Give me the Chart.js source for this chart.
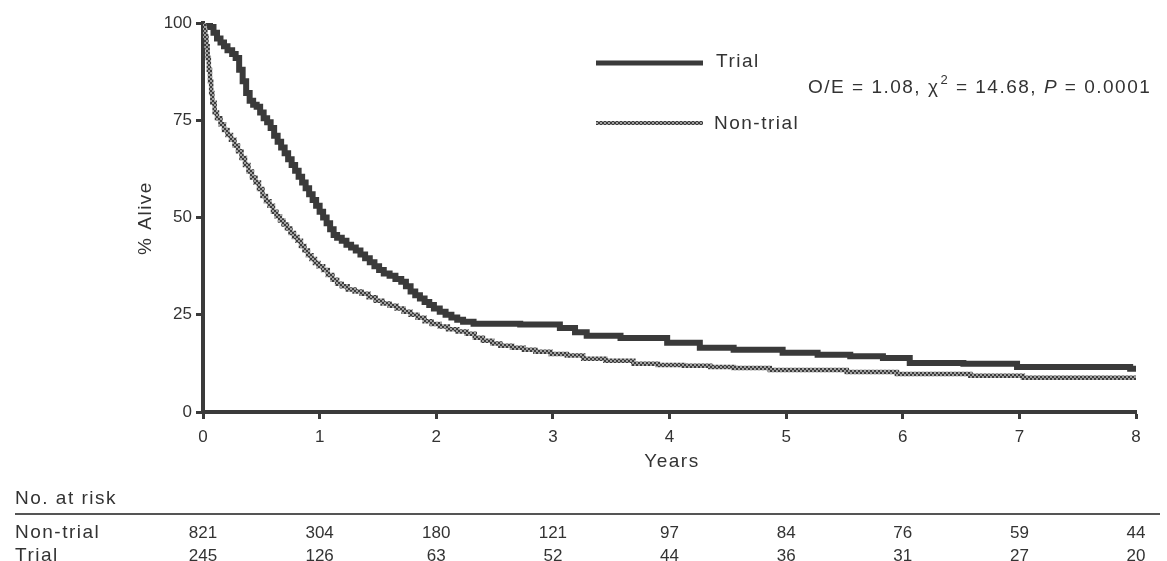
<!DOCTYPE html>
<html>
<head>
<meta charset="utf-8">
<script src="https://cdn.jsdelivr.net/npm/chart.js@4.4.0/dist/chart.umd.min.js"></script>
<style>
  html, body { margin: 0; padding: 0; background: #fff; }
  #wrap { width: 1167px; height: 561px; }
</style>
</head>
<body>
<div id="wrap"><canvas id="km"></canvas></div>
<script>
// survival curves (years, % alive)
const trialYears = [0, 0.03, 0.06, 0.09, 0.12, 0.15, 0.18, 0.21, 0.25, 0.28, 0.31, 0.34, 0.37, 0.40, 0.43, 0.46, 0.49, 0.52, 0.55, 0.58, 0.61, 0.64, 0.67, 0.70, 0.73, 0.76, 0.79, 0.82, 0.85, 0.88, 0.91, 0.94, 0.97, 1.00, 1.03, 1.06, 1.09, 1.12, 1.15, 1.19, 1.23, 1.27, 1.31, 1.35, 1.39, 1.43, 1.47, 1.51, 1.55, 1.60, 1.65, 1.70, 1.74, 1.78, 1.82, 1.86, 1.90, 1.94, 1.98, 2.03, 2.08, 2.13, 2.18, 2.23, 2.32, 2.72, 3.06, 3.19, 3.29, 3.58, 3.98, 4.26, 4.55, 4.97, 5.27, 5.55, 5.83, 6.06, 6.52, 6.98, 7.95, 8.0];
const trialAlive = [100, 100, 99, 97.5, 96, 95, 94, 93, 92, 91, 88, 85, 82, 80, 79, 78.5, 77, 75.5, 74.5, 73, 71, 69.5, 68, 66.5, 65, 63.5, 62, 60.5, 59, 57.5, 56, 54.5, 53, 51.5, 50, 48.5, 47, 45.5, 44.8, 44, 43, 42.3, 41.5, 40.5, 39.5, 38.5, 37.5, 36.5, 35.6, 35, 34.2, 33.5, 32.3, 31, 30, 29.2, 28.3, 27.5, 26.6, 25.8, 25, 24.3, 23.7, 23.2, 22.7, 22.5, 21.6, 20.5, 19.6, 19, 17.8, 16.5, 16, 15.2, 14.7, 14.3, 13.9, 12.6, 12.4, 11.6, 11.1, 11.1];

const nonTrialYears = [0, 0.01, 0.02, 0.03, 0.04, 0.05, 0.06, 0.07, 0.08, 0.10, 0.12, 0.15, 0.18, 0.21, 0.24, 0.27, 0.30, 0.33, 0.36, 0.39, 0.42, 0.45, 0.48, 0.51, 0.54, 0.57, 0.60, 0.63, 0.66, 0.69, 0.72, 0.75, 0.78, 0.81, 0.84, 0.87, 0.90, 0.93, 0.96, 0.99, 1.03, 1.07, 1.11, 1.15, 1.19, 1.24, 1.30, 1.36, 1.42, 1.48, 1.54, 1.60, 1.66, 1.72, 1.78, 1.84, 1.90, 1.96, 2.03, 2.10, 2.18, 2.26, 2.33, 2.40, 2.48, 2.55, 2.65, 2.75, 2.85, 2.98, 3.12, 3.26, 3.45, 3.69, 3.90, 4.12, 4.35, 4.55, 4.86, 5.52, 5.95, 6.58, 7.03, 8.0];
const nonTrialAlive = [100, 98, 96.5, 94, 91, 88, 85, 82, 79.5, 77, 75.5, 74, 72.5, 71.2, 70, 68.5, 67, 65.3, 63.5, 61.8, 60.3, 59, 57.3, 55.5, 54.2, 53, 51.5, 50.3, 49.2, 48.2, 47.2, 46, 45, 44, 42.7, 41.5, 40.3, 39.3, 38.3, 37.5, 36.5, 35.2, 34, 33, 32.3, 31.5, 31, 30.4, 29.5, 28.6, 27.9, 27.3, 26.6, 25.8, 25, 24.2, 23.3, 22.6, 22, 21.3, 20.7, 20.1, 19.1, 18.3, 17.6, 17, 16.5, 16, 15.5, 14.9, 14.5, 13.7, 13.2, 12.4, 12.1, 11.9, 11.6, 11.3, 10.8, 10.3, 9.8, 9.3, 8.8, 8.8];

// numbers at risk table
const riskYears = [0, 1, 2, 3, 4, 5, 6, 7, 8];
const riskNonTrial = [821, 304, 180, 121, 97, 84, 76, 59, 44];
const riskTrial = [245, 126, 63, 52, 44, 36, 31, 27, 20];

const ink = '#3a3a3a';
const textInk = '#333';
const fontFam = '"Liberation Sans", Arial, Helvetica, sans-serif';
const labelFont = '19px ' + fontFam;

const canvas = document.getElementById('km');
const ctx = canvas.getContext('2d');

// speckled pattern for the non-trial line
const pc = document.createElement('canvas');
pc.width = 4; pc.height = 4;
const pctx = pc.getContext('2d');
pctx.fillStyle = '#a0a0a0';
pctx.fillRect(0, 0, 4, 4);
pctx.fillStyle = '#3c3c3c';
pctx.fillRect(0, 0, 2, 2);
pctx.fillRect(2, 2, 2, 2);
const speckle = ctx.createPattern(pc, 'repeat');

const extras = {
  id: 'extras',
  afterDraw(chart) {
    const c = chart.ctx;
    const x = chart.scales.x;
    c.save();
    c.fillStyle = textInk;
    c.textBaseline = 'middle';
    c.letterSpacing = '1.5px';

    // axis titles
    c.font = labelFont;
    c.textAlign = 'center';
    c.fillText('Years', 672, 462);
    c.save();
    c.translate(146, 218);
    c.rotate(-Math.PI / 2);
    c.fillText('% Alive', 0, 0);
    c.restore();

    // legend
    c.lineWidth = 5;
    c.strokeStyle = ink;
    c.beginPath(); c.moveTo(596, 63); c.lineTo(703, 63); c.stroke();
    c.lineWidth = 4;
    c.strokeStyle = speckle;
    c.beginPath(); c.moveTo(596, 123); c.lineTo(703, 123); c.stroke();
    c.textAlign = 'left';
    c.fillText('Trial', 716, 62);
    c.fillText('Non-trial', 714, 124);

    // test statistic
    let px = 808;
    const py = 88;
    const part = (s, f) => { c.font = f; c.fillText(s, px, py); px += c.measureText(s).width; };
    part('O/E = 1.08, ', labelFont);
    part('\u03C7', labelFont);
    c.font = '13px ' + fontFam;
    c.fillText('2', px + 1, py - 8);
    px += c.measureText('2').width + 1;
    part(' = 14.68, ', labelFont);
    part('P', 'italic ' + labelFont);
    part(' = 0.0001', labelFont);

    // numbers at risk
    c.font = labelFont;
    c.textAlign = 'left';
    c.fillText('No. at risk', 15, 499);
    c.fillText('Non-trial', 15, 533);
    c.fillText('Trial', 15, 556);
    c.strokeStyle = '#555';
    c.lineWidth = 2;
    c.beginPath(); c.moveTo(15, 514); c.lineTo(1160, 514); c.stroke();
    c.letterSpacing = '0px';
    c.font = '17px ' + fontFam;
    c.textAlign = 'center';
    riskYears.forEach((yr, i) => {
      const cx = x.getPixelForValue(yr);
      c.fillText(String(riskNonTrial[i]), cx, 533);
      c.fillText(String(riskTrial[i]), cx, 556);
    });
    c.restore();
  }
};

const axisStyle = {
  grid: { display: true, drawOnChartArea: false, drawTicks: true, tickLength: 7, tickWidth: 3, tickColor: ink },
  border: { display: true, width: 4, color: ink }
};

new Chart(ctx, {
  type: 'line',
  data: {
    datasets: [
      {
        label: 'Non-trial',
        data: nonTrialYears.map((t, i) => ({ x: t, y: nonTrialAlive[i] })),
        borderColor: speckle,
        borderWidth: 4.5,
        stepped: true,
        pointRadius: 0,
        fill: false
      },
      {
        label: 'Trial',
        data: trialYears.map((t, i) => ({ x: t, y: trialAlive[i] })),
        borderColor: ink,
        borderWidth: 6,
        stepped: true,
        pointRadius: 0,
        fill: false
      }
    ]
  },
  options: {
    responsive: true,
    maintainAspectRatio: false,
    animation: false,
    layout: { padding: { top: 23, right: 31, left: 0, bottom: 0 } },
    plugins: { legend: { display: false }, tooltip: { enabled: false } },
    scales: {
      x: {
        type: 'linear', min: 0, max: 8,
        ticks: { stepSize: 1, color: textInk, padding: 8, font: { family: fontFam, size: 17 } },
        ...axisStyle,
        afterFit: s => { s.height = 149; }
      },
      y: {
        min: 0, max: 100,
        ticks: { stepSize: 25, color: textInk, padding: 4, font: { family: fontFam, size: 17 } },
        ...axisStyle,
        afterFit: s => { s.width = 203; }
      }
    }
  },
  plugins: [extras]
});
</script>
</body>
</html>
